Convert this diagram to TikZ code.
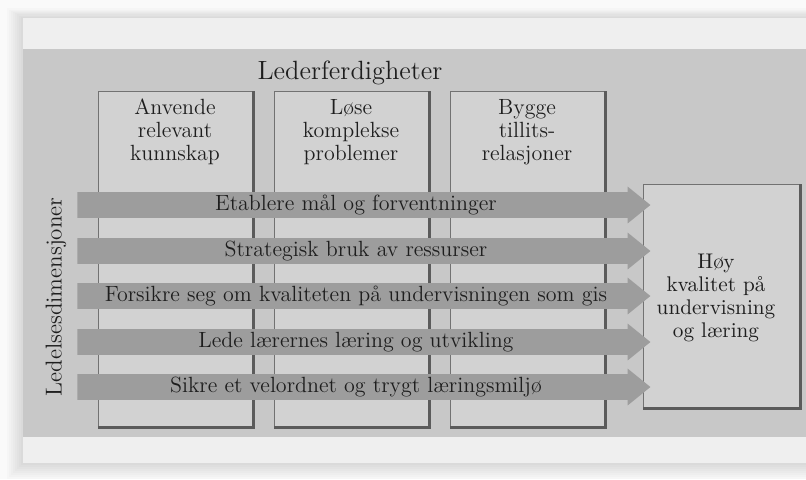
\documentclass[tikz,border=0pt]{standalone}
\usepackage{tikz}
\usetikzlibrary{shapes.arrows}
\definecolor{bgcol}{HTML}{FAFAFA}
\definecolor{cardcol}{HTML}{EFEFEF}
\definecolor{panelcol}{HTML}{C8C8C8}
\definecolor{boxcol}{HTML}{D2D2D2}
\definecolor{arrowcol}{HTML}{9D9D9D}
\definecolor{edgecol}{HTML}{727272}
\definecolor{inkcol}{HTML}{1E1E1E}
\newcommand{\fs}[1]{\fontsize{#1}{11.5}\selectfont}

\begin{document}
\begin{tikzpicture}[x=0.5pt, y=-0.5pt, text=inkcol,
    skill/.style={draw=edgecol, line width=0.7pt, fill=boxcol, anchor=north west,
                  minimum width=77pt, minimum height=167.5pt, inner sep=0pt},
    goalbox/.style={draw=edgecol, line width=0.7pt, fill=boxcol, anchor=north west,
                  minimum width=78pt, minimum height=111.5pt, inner sep=0pt},
    flow/.style={single arrow, fill=arrowcol, anchor=tail, minimum height=286.5pt,
                 single arrow head extend=2.75pt, single arrow tip angle=78,
                 text height=7.5pt, text depth=2.5pt, inner ysep=1.25pt, inner xsep=0pt,
                 font=\fs{11}},
    boxtext/.style={align=center, font=\fs{11}, inner sep=0pt}]
  \useasboundingbox (0,0) rectangle (806,479);
  \fill[bgcol] (0,0) rectangle (806,479);
  % card with soft shadow
  \foreach \i in {1,...,8}
    \fill[black, opacity=0.014] ({23-2*\i},{18-1.2*\i}) rectangle (806,{463+2*\i});
  \fill[cardcol] (23,18) rectangle (806,463);
  \fill[panelcol] (23,49) rectangle (806,437);

  \node  (title) at (350,73) {\fs{13.2}Lederferdigheter};
  \node[skill]  (s1) at (98,91) {};
  \node[skill]  (s2) at (274,91) {};
  \node[skill]  (s3) at (450,91) {};
  \node[goalbox]  (goal) at (643,184) {};
  \foreach \b in {s1,s2,s3,goal}
    \draw[edgecol!80!black, line width=1.3pt] (\b.north east) -- (\b.south east) -- (\b.south west);

  \node[boxtext]  (t1) at (175,132) {Anvende\\relevant\\kunnskap};
  \node[boxtext]  (t2) at (351,132) {Løse\\komplekse\\problemer};
  \node[boxtext]  (t3) at (527,132) {Bygge\\tillits-\\relasjoner};
  \node[boxtext, font=\fs{10.6}]  (tg) at (716,298) {Høy\\kvalitet på\\undervisning\\og læring};

  \node[flow]  (d1) at (77,205) {Etablere mål og forventninger};
  \node[flow]  (d2) at (77,251) {Strategisk bruk av ressurser};
  \node[flow]  (d3) at (77,296) {Forsikre seg om kvaliteten på undervisningen som gis};
  \node[flow]  (d4) at (77,342) {Lede lærernes læring og utvikling};
  \node[flow]  (d5) at (77,387) {Sikre et velordnet og trygt læringsmiljø};

  \node[rotate=90, font=\fs{11.5}]  (dim) at (56,297) {Ledelsesdimensjoner};
\end{tikzpicture}
\end{document}
